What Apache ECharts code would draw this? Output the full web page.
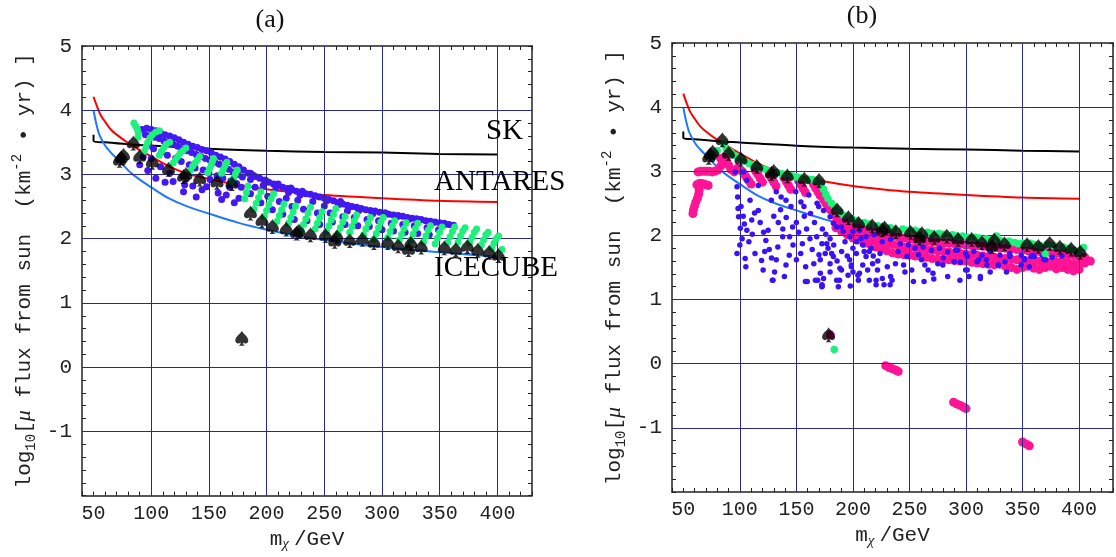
<!DOCTYPE html>
<html><head><meta charset="utf-8">
<script src="https://cdn.jsdelivr.net/npm/echarts@6/dist/echarts.min.js"></script>
<style>html,body{margin:0;padding:0;background:#fff}#c{width:1116px;height:557px}</style>
</head><body><div id="c"></div>
<script>
const xTicks=[50,100,150,200,250,300,350,400];
const yTicks=[-1,0,1,2,3,4,5];
const gridX=[100,150,200,250,300,350,400];
const gridY=[-1,0,1,2,3,4];

const skCurve=[[50,3.62],[50,3.52],[60,3.50],[80,3.47],[100,3.45],[150,3.40],[200,3.37],[250,3.35],[300,3.34],[350,3.32],[400,3.31]];
const antaresCurve=[[50,4.21],[53,4.06],[56,3.93],[60,3.82],[65,3.70],[70,3.62],[80,3.49],[90,3.38],[100,3.28],[115,3.13],[130,3.02],[150,2.93],[175,2.84],[200,2.77],[225,2.72],[250,2.68],[300,2.63],[350,2.59],[400,2.57]];
const icecubeCurve=[[50,4.0],[52,3.82],[55,3.62],[60,3.45],[65,3.34],[70,3.25],[75,3.16],[82,3.03],[90,2.92],[100,2.80],[115,2.63],[130,2.51],[150,2.39],[175,2.25],[200,2.14],[225,2.05],[250,1.98],[300,1.87],[350,1.79],[400,1.72]];

const spades=[[72.5,3.22],[74,3.26],[76,3.3],[84.5,3.49],[90,3.28],[101,3.19],[115,3.08],[128,2.97],[130,3.0],[142,2.93],[157,2.88],[170,2.86],[186,2.40],[196,2.28],[205,2.19],[217,2.15],[226,2.09],[228,2.12],[238,2.06],[251,2.05],[259,1.96],[261,2.03],[272,1.97],[283,1.99],[293,1.94],[305,1.94],[314,1.89],[323,1.83],[325,1.93],[334,1.87],[354,1.86],[364,1.83],[374,1.88],[383,1.82],[393,1.79],[401,1.74],[178.5,0.45]];

const aGreen=[
[85,3.80],[86.5,3.75],[88,3.70],[89,3.64],[88.5,3.58],
[94,3.36],[95.5,3.43],[97,3.50],[99,3.57],[101,3.62],[104,3.66],[107,3.68],
[107,3.30],[109,3.36],[111,3.42],[113,3.47],[116,3.50],
[119,3.18],[121,3.23],[123,3.28],[125,3.33],[127.5,3.37],[130,3.41],
[134,3.07],[136,3.13],[138,3.18],[140,3.23],[142,3.28],
[149,3.03],[150.5,3.09],[152,3.15],[153,3.20],[154,3.25],
[161,3.02],[162.5,3.08],[164,3.14],[165.5,3.19],
[170,2.89],[171.5,2.95],[173,3.01],[174.5,3.07],
[181,2.62],[182.5,2.72],[184,2.82],
[189,2.46],[191,2.55],[193,2.64],[195,2.73],
[198,2.35],[200,2.44],[202,2.53],[204,2.62],[206,2.70],
[209,2.27],[211,2.36],[213,2.45],[215,2.54],
[219,2.24],[221,2.33],[223,2.42],[225,2.51],
[230,2.13],[232,2.22],[234,2.31],[236,2.40],[238,2.49],
[242,2.15],[244,2.24],[246,2.33],[248,2.42],
[252,2.11],[254,2.20],[256,2.29],[258,2.38],[260,2.47],
[262,2.08],[264,2.17],[266,2.26],[268,2.35],
[272,2.10],[274,2.19],[276,2.28],[278,2.37],
[284,2.06],[286,2.15],[288,2.24],[290,2.33],
[293,1.99],[295,2.08],[297,2.17],[299,2.26],[301,2.33],
[305,2.02],[307,2.11],[309,2.20],[311,2.28],
[315,1.98],[317,2.07],[319,2.16],[321,2.25],
[325,1.98],[327,2.07],[329,2.16],[331,2.24],
[336,1.95],[338,2.04],[340,2.13],[342,2.20],
[346,1.92],[348,2.01],[350,2.10],[352,2.18],
[357,1.94],[359,2.03],[361,2.11],[363,2.18],
[366,1.95],[368,2.04],[370,2.12],[372,2.17],
[376,1.94],[378,2.02],[380,2.10],[382,2.15],
[386,1.90],[388,1.98],[390,2.06],[392,2.10],
[395,1.85],[397,1.93],[399,2.00],[401,2.04],
[404,1.83]];

const aBlue=[
[92,3.70],[96,3.72],[100,3.70],[104,3.68],[108,3.65],[112,3.62],[116,3.60],[120,3.57],[124,3.54],[128,3.50],[132,3.47],[136,3.44],[140,3.42],[144,3.39],[148,3.37],[152,3.34],[156,3.30],[160,3.27],[164,3.24],[168,3.20],[172,3.16],[176,3.12],[180,3.07],[184,3.02],
[95,3.62],[99,3.60],[103,3.58],[107,3.56],[111,3.52],[115,3.50],[119,3.47],[123,3.44],[127,3.40],[131,3.37],[135,3.34],[139,3.31],[143,3.28],[147,3.25],[151,3.22],[155,3.19],[159,3.16],[163,3.12],[167,3.08],[171,3.04],[175,3.00],[179,2.96],
[97,3.45],[102,3.40],[109,3.35],[114,3.30],[121,3.25],[126,3.20],[133,3.15],[138,3.10],[145,3.07],[150,3.02],[157,2.98],[162,2.94],[169,2.90],[174,2.86],[178,2.80],
[97,3.06],[104,2.94],[108,3.12],[112,2.88],[116,3.02],[119,2.89],[128,2.73],[129,2.84],[136,2.82],[139,2.65],[144,2.76],[148,2.81],[151,2.92],[158,2.71],[161,2.61],[165,2.68],[168,2.80],[172,2.56],[176,2.63],[90,3.15],[93,3.28],[100,3.25],
[186,3.02],[190,2.97],[194,2.94],[198,2.91],[202,2.88],[206,2.85],[210,2.82],[214,2.80],[218,2.78],[222,2.76],[226,2.74],[230,2.72],[234,2.70],[238,2.69],[242,2.67],[246,2.65],[250,2.63],[254,2.61],[258,2.59],[262,2.56],[266,2.54],[270,2.52],[274,2.50],[278,2.49],[282,2.47],[286,2.45],[290,2.44],[294,2.43],[298,2.41],[302,2.40],[306,2.38],[310,2.37],[314,2.36],[318,2.35],[322,2.33],[326,2.32],[330,2.31],[334,2.30],[338,2.28],[342,2.27],[346,2.26],[350,2.25],[354,2.24],[358,2.22],[362,2.21],
[186,2.92],[188,2.99],[197,2.83],[199,2.91],[208,2.79],[210,2.85],[217,2.63],[219,2.72],[221,2.79],[227,2.60],[229,2.68],[231,2.74],[240,2.58],[242,2.66],[250,2.51],[252,2.59],[262,2.53],[264,2.58],[270,2.43],[272,2.50],[280,2.44],[292,2.39],[303,2.40],[313,2.34],[323,2.30],[333,2.29],[344,2.25],[354,2.22],
[186,2.70],[195,2.56],[205,2.45],[214,2.38],[224,2.30],[235,2.28],[246,2.22],[257,2.26],[268,2.22],[279,2.20],[289,2.19],[300,2.14],[310,2.12],[320,2.10],[331,2.08],[341,2.06],
[190,2.80],[201,2.66],[211,2.58],[222,2.50],[232,2.46],[244,2.40],[255,2.40],[266,2.34],[276,2.33],[287,2.30],[297,2.28],[308,2.24],[318,2.22],[328,2.20],[339,2.17],[349,2.14]];

const bGreen=[[80,3.32],[86,3.42],[88,3.36],[92,3.30],[95,3.25],[98,3.22],[104,3.16],[108,3.12],[112,3.10],[118,3.05],[122,3.03],[126,3.01],[133,2.98],[137,2.96],[140,2.95],[146,2.93],[150,2.91],[153,2.90],[160,2.88],[164,2.87],[167,2.86],[172,2.80],[174,2.72],[176,2.64],[178,2.57],[181,2.50],[184,2.44],[189,2.36],[192,2.31],[199,2.26],[203,2.23],[210,2.20],[214,2.18],[222,2.15],[226,2.13],[233,2.12],[236,2.10],[244,2.10],[248,2.08],[255,2.08],[258,2.06],[266,2.05],[270,2.03],[276,2.03],[280,2.02],[288,2.01],[292,1.99],[297,1.99],[301,1.97],[308,1.97],[312,1.96],[318,1.95],[322,1.93],[327,1.99],[330,1.92],[338,1.91],[343,1.89],[346,1.87],[350,1.88],[357,1.88],[360,1.86],[366,1.84],[370,1.72],[372,1.86],[378,1.84],[386,1.82],[390,1.80],[396,1.77],[399,1.74],[404,1.81],[183.5,0.22]];

const bMagenta=[
[58.5,2.34],[59,2.40],[60,2.46],[61,2.52],[62.5,2.58],[63.5,2.64],[64,2.70],[62,2.79],[64,2.81],[66,2.81],[68,2.80],[70,2.79],[72,2.78],[63,2.99],[65.5,3.0],[68,3.0],[70.5,3.0],[73,3.0],[75.5,2.99],[78,3.0],[80.5,3.02],[83,3.08],[85,3.13],[83,3.2],[86,3.22],[88,3.17],[90,3.10],[92,3.03],[95,2.99],[98,3.05],
[102,3.0],[104,2.95],[106,2.90],[108,2.85],[110,2.80],[114,3.0],[116,2.95],[118,2.89],[120,2.83],[126,2.95],[128,2.89],[130,2.83],[132,2.77],[139,2.90],[141,2.84],[143,2.78],[145,2.72],[152,2.85],[154,2.79],[156,2.73],[158,2.67],[165,2.80],[167,2.74],[169,2.68],[171,2.62],[174,2.56],[176,2.50],[178,2.45],[180,2.40],
[185,2.30],[185,2.20],[185,2.12],[190,2.26],[190,2.15],[190,2.06],[195,2.20],[195,2.10],[195,2.01],[200,2.15],[200,2.05],[200,1.96],[205,2.12],[205,2.02],[205,1.93],[210,2.08],[210,1.98],[210,1.88],[215,2.06],[215,1.95],[215,1.86],[220,2.04],[220,1.93],[220,1.82],[225,2.02],[225,1.90],[225,1.79],[230,2.00],[230,1.88],[230,1.76],[235,1.99],[235,1.86],[235,1.73],[240,1.97],[240,1.84],[240,1.71],[245,1.96],[245,1.82],[245,1.70],[250,1.94],[250,1.80],[250,1.69],[255,1.93],[255,1.81],[255,1.68],[260,1.92],[260,1.79],[260,1.67],[265,1.91],[265,1.78],[265,1.66],[270,1.90],[270,1.77],[270,1.64],[275,1.89],[275,1.76],[275,1.63],[280,1.88],[280,1.75],[280,1.62],[285,1.88],[285,1.74],[285,1.62],[290,1.87],[290,1.73],[290,1.61],[295,1.86],[295,1.72],[295,1.60],[300,1.85],[300,1.71],[300,1.60],[305,1.84],[305,1.70],[305,1.58],[310,1.84],[310,1.69],[310,1.57],[315,1.83],[315,1.68],[315,1.56],[320,1.82],[320,1.67],[320,1.55],[325,1.81],[325,1.66],[325,1.54],[330,1.80],[330,1.65],[330,1.55],[335,1.80],[335,1.64],[335,1.52],[340,1.79],[340,1.63],[340,1.50],[345,1.78],[345,1.62],[345,1.47],[350,1.77],[350,1.61],[350,1.50],[355,1.76],[355,1.60],[355,1.52],[360,1.76],[360,1.60],[360,1.49],[365,1.75],[365,1.60],[365,1.47],[370,1.74],[370,1.59],[370,1.50],[375,1.73],[375,1.59],[375,1.52],[380,1.72],[380,1.58],[380,1.48],[385,1.72],[385,1.60],[385,1.50],[390,1.70],[390,1.58],[390,1.47],[395,1.69],[395,1.56],[395,1.45],[400,1.67],[400,1.55],[400,1.47],[405,1.66],[405,1.57],[410,1.60],
[180,0.45],[229,-0.03],[232,-0.06],[235,-0.08],[238,-0.10],[240,-0.12],[289,-0.60],[292,-0.63],[295,-0.65],[298,-0.68],[300,-0.70],[350,-1.22],[353,-1.25],[356,-1.28]];

const bBlue=[
[97.5,2.76],[98.1,2.60],[98.4,2.42],[98.9,2.29],[100.4,2.11],[97.5,1.72],[104.7,1.64],[106.2,2.08],[105.3,1.51],[109,2.55],[110.5,2.24],[113.4,1.72],[116.3,2.39],[119.2,1.61],[120.6,1.46],[122,1.75],[125,2.08],[127.8,2.55],[129.3,1.30],[130.7,1.43],[132.2,1.62],[133.6,1.82],[137.9,1.98],[139.4,1.36],[140.8,1.54],[143.7,1.69],[145.2,2.45],[146.6,2.13],[153.8,1.72],[155.3,1.87],[158.2,1.51],[159.6,1.28],[162.5,2.34],[165.4,1.56],[166.8,1.30],[171.2,1.41],[172.6,1.23],[175.5,1.72],[176.9,1.87],[179.8,1.43],[182.7,1.67],[187.1,1.20],[189.9,1.46],[195.7,1.38],[198.6,1.54],[203,1.72],[205.8,1.41],[211.6,1.67],[214.5,1.30],[217.4,1.56],
[96,2.99],[103.3,2.99],[106.2,2.86],[116.3,2.78],[132.2,2.68],[136.5,2.60],[140.8,2.55],[149.5,2.68],[156.7,2.45],[161,2.63],[168.3,2.50],[174,2.39],[179.8,2.29],[185.6,2.13],[191.4,2.06],[197.2,1.98],[203,1.90],[208.7,1.85],[216,1.80],
[128.8,1.30],[158,1.28],[168.8,1.30],[172.8,1.21],[188.2,1.30],[197.7,1.21],[204.8,1.30],[220.5,1.30],[220.5,1.23],[232.9,1.23],[234.6,1.30],[262.9,1.28],[271.5,1.32],[294.6,1.30],
[169.7,2.45],[172.6,1.87],[179.8,1.95],[171.1,1.62],[179.8,1.56],[181.2,1.72],[174,1.33],[172.6,1.20],[185.6,1.30],[188.5,1.49],[197.1,1.62],[198.6,1.51],[200,1.43],[204.4,1.38],[208.7,1.54],[213,1.46],[214.5,1.75],[221.7,1.46],[226,1.33],[227.5,1.23],[230.4,1.51],[233.3,1.36],[237.6,1.56],[244.8,1.54],[247.7,1.67],[252,1.46],[253.5,1.28],[260.7,1.62],[263.6,1.54],[266.5,1.46],[270.8,1.41],[275.1,1.56],[279.5,1.54],[283.8,1.36],[289.6,1.59],[301.1,1.46],[309.8,1.59],[312.7,1.36],[318.5,1.54],[328.6,1.54],[334.4,1.59],[338.7,1.72],[348.8,1.54],[351.7,1.64],[358.9,1.69],[369,1.62],
[182.7,2.19],[189.9,2.13],[200,2.06],[205.8,2.08],[211.6,1.98],[218.8,2.01],[226,1.90],[233.3,1.94],[241.9,1.87],[249.1,1.85],[254.9,1.80],[262.1,1.82],[269.4,1.77],[276.6,1.80],[283.8,1.74],[292.5,1.77],[299.7,1.72],[306.9,1.75],[314.1,1.69],[321.4,1.75],[330,1.69],[338.7,1.67],[348.8,1.69],[357.5,1.67],[367.6,1.69],[376.3,1.66],[384.9,1.68],
[291,1.77],[301.2,1.67],[299.7,1.46],[302.6,1.36],[312.7,1.33],[311.3,1.62],[321.4,1.43],[328.6,1.54],[335.8,1.43],[338.7,1.69],[351.7,1.62],[356,1.51],[360.4,1.67],[370.5,1.62],
[101,2.45],[103,2.30],[104,2.18],[102,1.95],[100,1.85],[108,1.90],[111,2.02],[113,2.35],[118,2.20],[121,2.05],[123,1.92],[126,1.78],[128,1.65],[130,2.30],[134,2.20],[136,2.40],[138,2.10],[141,2.28],[144,1.98],[147,1.85],[150,2.20],[150,1.62],[152,2.05],[154,2.52],[157,2.30],[159,2.10],[162,1.95],[164,1.78],[166,2.20],[168,1.98],[170,1.70],[173,2.10],[176,2.02],[178,1.80],[183,1.85],[186,1.60],[190,1.75],[193,1.90],[195,1.68],[200,1.80],[207,1.95],[210,1.75],[218,1.68],[222,1.60],[224,1.72],[240,1.75],[258,1.70],[246,1.43],[280,1.65],[295,1.58],[318,1.62]];

const SPADE='path://M50 0 C60 20 100 40 100 65 C100 85 75 92 58 78 C60 90 66 98 78 100 L22 100 C34 98 40 90 42 78 C25 92 0 85 0 65 C0 40 40 20 50 0 Z';
const MONO='"Liberation Mono", "DejaVu Sans Mono", monospace';
const SERIF='"Liberation Serif", "DejaVu Serif", serif';
const FRAME='#222';
const GRIDC='#2a2a8c';

function xAx(g, pos){
  const a={type:'value',gridIndex:g,min:40,max:430,interval:10,position:pos,
    axisLine:{show:true,onZero:false,lineStyle:{color:FRAME,width:1.5}},
    axisTick:{show:true,inside:true,length:4,lineStyle:{color:FRAME,width:1}},
    splitLine:{show:false},
    axisLabel:{show:pos==='bottom',margin:8,fontFamily:MONO,fontSize:20,color:'#222',
      formatter:v=>xTicks.includes(v)?String(v):''}};
  if(pos==='bottom'){
    a.name='{n|m}{sub|χ}{n|/GeV}';
    a.nameLocation='middle'; a.nameGap=28;
    a.nameTextStyle={rich:{n:{fontFamily:MONO,fontSize:21,color:'#222',lineHeight:26},
      sub:{fontFamily:SERIF,fontStyle:'italic',fontSize:15,color:'#222',verticalAlign:'bottom',lineHeight:26,padding:[0,5,0,0]}}};
  }
  return a;
}
function yAx(g, pos){
  const a={type:'value',gridIndex:g,min:-2,max:5,interval:0.2,position:pos,
    axisLine:{show:true,onZero:false,lineStyle:{color:FRAME,width:1.5}},
    axisTick:{show:true,inside:true,length:4,lineStyle:{color:FRAME,width:1}},
    splitLine:{show:false},
    axisLabel:{show:pos==='left',margin:10,fontFamily:MONO,fontSize:21,color:'#222',
      formatter:v=>{const r=Math.round(v);return (Math.abs(v-r)<1e-6&&yTicks.includes(r))?(r<0?'-'+(-r):String(r)):'';}}};
  if(pos==='left'){
    a.name='{n|log}{sub|10}{n|[}{mu|μ}{n| flux from sun  (km}{sup|-2}{n| • yr) ]}';
    a.nameLocation='middle'; a.nameGap=44; a.nameRotate=90;
    a.nameTextStyle={rich:{n:{fontFamily:MONO,fontSize:21,color:'#222',lineHeight:28},
      sub:{fontFamily:MONO,fontSize:14,color:'#222',verticalAlign:'bottom',lineHeight:28},
      sup:{fontFamily:MONO,fontSize:14,color:'#222',verticalAlign:'top',lineHeight:28},
      mu:{fontFamily:SERIF,fontStyle:'italic',fontSize:22,color:'#222',lineHeight:28}}};
  }
  return a;
}
function gridLines(xi,yi){
  return {type:'line',xAxisIndex:xi,yAxisIndex:yi,data:[[40,-2]],showSymbol:false,symbol:'none',silent:true,z:1,
    lineStyle:{width:0},
    markLine:{silent:true,symbol:['none','none'],label:{show:false},animation:false,
      lineStyle:{color:GRIDC,width:1,type:'solid'},
      data:[...gridX.map(v=>({xAxis:v})),...gridY.map(v=>({yAxis:v}))]}};
}
function curve(d,color,xi,yi){
  return {type:'line',xAxisIndex:xi,yAxisIndex:yi,data:d,smooth:0.3,showSymbol:false,symbol:'none',z:2,
    lineStyle:{color:color,width:2},silent:true};
}
function dots(d,color,size,xi,yi,z){
  return {type:'scatter',xAxisIndex:xi,yAxisIndex:yi,data:d,symbol:'circle',symbolSize:size,z:z,
    itemStyle:{color:color,opacity:1},silent:true};
}
function spadeSeries(xi,yi){
  return {type:'scatter',xAxisIndex:xi,yAxisIndex:yi,data:spades,symbol:SPADE,symbolSize:[13,15],z:8,
    itemStyle:{color:'#000'},silent:true};
}

const chart=echarts.init(document.getElementById('c'),null,{renderer:'canvas'});
chart.setOption({
  animation:false,
  backgroundColor:'#fff',
  grid:[{left:82,top:46,width:450,height:450},{left:672,top:43,width:450,height:449}],
  xAxis:[xAx(0,'bottom'),xAx(0,'top'),xAx(1,'bottom'),xAx(1,'top')],
  yAxis:[yAx(0,'left'),yAx(0,'right'),yAx(1,'left'),yAx(1,'right')],
  series:[
    gridLines(0,0),
    curve(skCurve,'#000',0,0),curve(antaresCurve,'#ff0000',0,0),curve(icecubeCurve,'#1f78ff',0,0),
    dots(aBlue,'#4418f0',7,0,0,4),
    dots(aGreen,'#1ef07c',7,0,0,5),
    spadeSeries(0,0),
    gridLines(2,2),
    curve(skCurve,'#000',2,2),curve(antaresCurve,'#ff0000',2,2),curve(icecubeCurve,'#1f78ff',2,2),
    dots(bMagenta,'#ff1496',9,2,2,4),
    dots(bBlue,'#3a12f5',5.5,2,2,5),
    dots(bGreen,'#1ef07c',7.5,2,2,6),
    spadeSeries(2,2)
  ],
  graphic:[
    {type:'text',x:270,y:7,style:{text:'(a)',font:'26px '+SERIF,fill:'#111',align:'center',verticalAlign:'top'}},
    {type:'text',x:862,y:3,style:{text:'(b)',font:'26px '+SERIF,fill:'#111',align:'center',verticalAlign:'top'}},
    {type:'text',x:486,y:117,z:20,style:{text:'SK',font:'29px '+SERIF,fill:'#000',align:'left',verticalAlign:'top'}},
    {type:'text',x:434,y:168,z:20,style:{text:'ANTARES',font:'29px '+SERIF,fill:'#000',align:'left',verticalAlign:'top'}},
    {type:'text',x:434,y:254,z:20,style:{text:'ICECUBE',font:'29px '+SERIF,fill:'#000',align:'left',verticalAlign:'top'}}
  ]
});
</script></body></html>
